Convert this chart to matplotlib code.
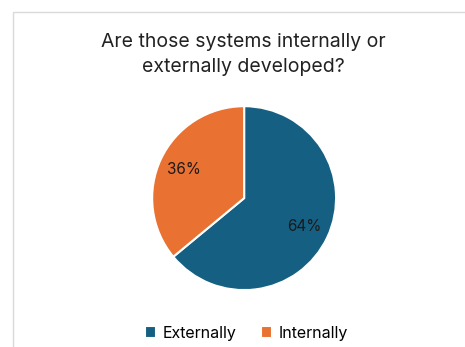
import matplotlib.pyplot as plt
from matplotlib.patches import Rectangle

labels = ['Externally', 'Internally']
shares = [64, 36]
colors = ['#156082', '#E97132']

plt.rcParams['font.family'] = ['Inter', 'DejaVu Sans']

fig = plt.figure(figsize=(4.65, 3.47), dpi=100)

# light chart frame
fig.patches.append(Rectangle((13 / 465, -0.1), 1.1, 1 - 12 / 347 + 0.1,
                             transform=fig.transFigure, fill=False,
                             edgecolor='#d9d9d9', linewidth=1))

fig.text(0.523, 0.843, 'Are those systems internally or\nexternally developed?',
         ha='center', va='center', fontsize=14, color='#222222',
         linespacing=1.45)

ax = fig.add_axes([0.327, 0.164, 0.396, 0.530])
wedges, texts, autotexts = ax.pie(shares, colors=colors, startangle=90,
                                  counterclock=False, autopct='%1.0f%%',
                                  pctdistance=0.72,
                                  wedgeprops=dict(edgecolor='white', linewidth=1.5),
                                  textprops=dict(fontsize=11, color='#1a1a1a'))
ax.set_xlim(-1, 1)
ax.set_ylim(-1, 1)
ax.set_aspect('equal')

fig.legend(wedges, labels, loc='center', bbox_to_anchor=(0.53, 0.04),
           ncol=2, frameon=False, fontsize=11.5, handlelength=0.7,
           handleheight=0.7, handletextpad=0.4, columnspacing=1.5)

fig.savefig('out.png', dpi=100)
